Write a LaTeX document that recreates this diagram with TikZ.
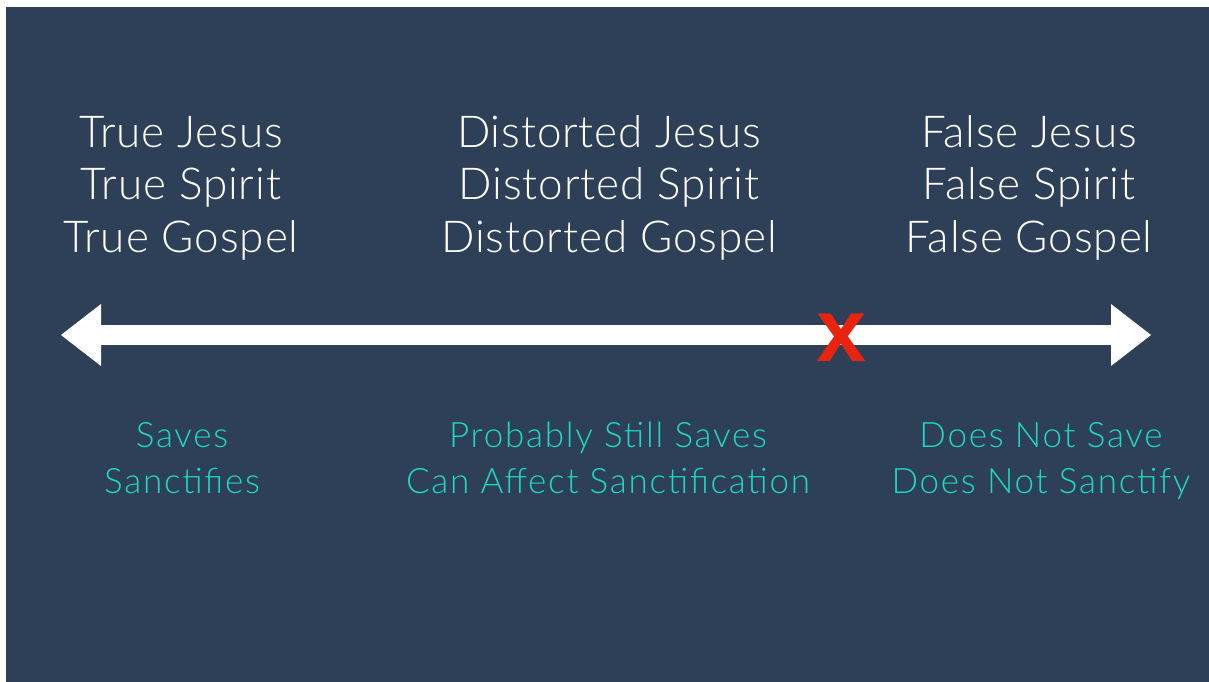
\documentclass[tikz,border=0pt]{standalone}
\usepackage{fontspec}
\setmainfont{Lato Light}
\newfontfamily\headfont{Lato Light}[LetterSpace=2]
\newfontfamily\effectfont{Lato Light}[LetterSpace=5]
\newfontfamily\markfont{Liberation Sans}
\usetikzlibrary{arrows.meta}
\definecolor{slatebg}{HTML}{2E4057}
\definecolor{tealtext}{HTML}{1FD8C3}
\definecolor{crossred}{HTML}{E8230F}

\begin{document}
\begin{tikzpicture}[
    x=1pt, y=-1pt,
    toptext/.style={font=\headfont\fontsize{44}{50}\selectfont, text=white, inner sep=0pt, anchor=base},
    bottext/.style={font=\effectfont\fontsize{35}{40}\selectfont, text=tealtext, inner sep=0pt, anchor=base},
    crossmark/.style={font=\markfont\bfseries\fontsize{90}{90}\selectfont, text=crossred, inner sep=0pt, anchor=base},
    spectrum/.style={{Triangle[length=40pt,width=62pt,line width=0pt]}-{Triangle[length=40pt,width=62pt,line width=0pt]},
      line width=20pt, white},
  ]
  \useasboundingbox (0,0) rectangle (1209,682);

  % Background
  \fill[slatebg] (6,7) rectangle (1209,682);

  % Column headings
  \foreach \txt [count=\i] in {True Jesus, True Spirit, True Gospel}
    \node[toptext] (true\i) at (181, 147+52.5*\i-52.5) {\txt};
  \foreach \txt [count=\i] in {Distorted Jesus, Distorted Spirit, Distorted Gospel}
    \node[toptext] (distorted\i) at (609, 147+52.5*\i-52.5) {\txt};
  \foreach \txt [count=\i] in {False Jesus, False Spirit, False Gospel}
    \node[toptext] (false\i) at (1029, 147+52.5*\i-52.5) {\txt};

  % Spectrum arrow
  \coordinate (leftend) at (61,335);
  \coordinate (rightend) at (1151,335);
  \draw[spectrum] (leftend) -- (rightend);

  % Marker on the line
  \node[crossmark] (cross) at (842,361) {x};

  % Effects
  \foreach \txt [count=\i] in {Saves, Sanctifies}
    \node[bottext] (saves\i) at (182, 447+46*\i-46) {\txt};
  \foreach \txt [count=\i] in {Probably Still Saves, Can Affect Sanctification}
    \node[bottext] (probably\i) at (608, 447+46*\i-46) {\txt};
  \foreach \txt [count=\i] in {Does Not Save, Does Not Sanctify}
    \node[bottext] (doesnot\i) at (1041, 447+46*\i-46) {\txt};

\end{tikzpicture}
\end{document}
